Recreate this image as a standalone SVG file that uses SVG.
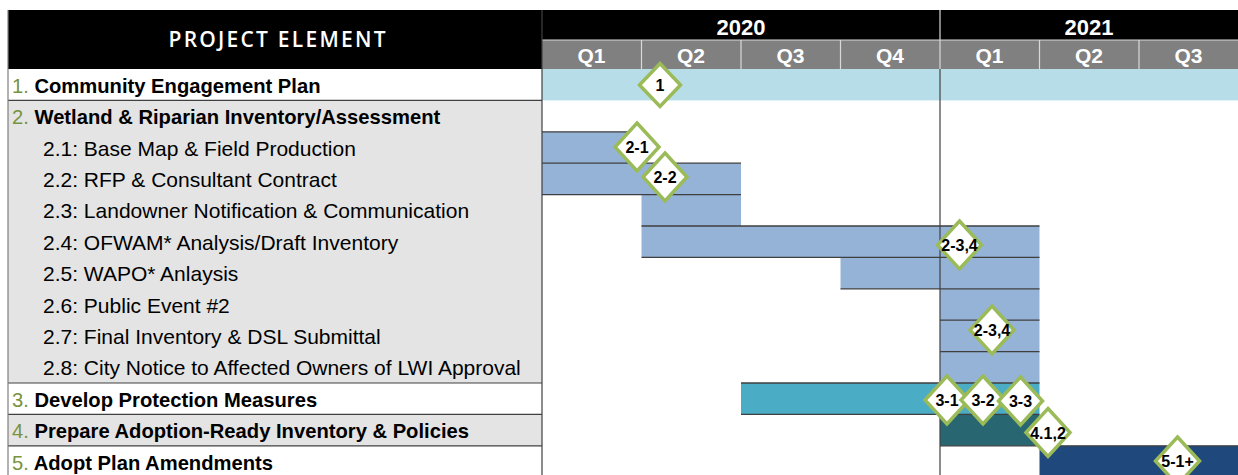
<svg xmlns="http://www.w3.org/2000/svg" width="1238" height="475" viewBox="0 0 1238 475">
<style>
.hd{font-family:"Liberation Sans",Arial,sans-serif;font-weight:bold;fill:#fff;text-anchor:middle}
.yr{font-size:22px}
.qt{font-size:21px}
.pe{font-family:"Open Sans","Liberation Sans",sans-serif;font-size:21px;font-weight:600;fill:#fff;text-anchor:middle}
.lab{font-family:"Liberation Sans",Arial,sans-serif;font-size:21px;fill:#000}
.b{font-weight:bold;font-size:20.2px}
.num{fill:#77933c;font-weight:normal}
.bar2{fill:#95b3d7}
.edge{stroke:#3f3f3f;stroke-width:1.3;fill:none}
.grid{stroke:#404040;stroke-width:1.2;fill:none}
.qsep{stroke:#d9d9d9;stroke-width:1.2}
.ms{fill:#fff;stroke:#9bbb59;stroke-width:3.5;stroke-linejoin:miter}
.mt{font-family:"Liberation Sans",Arial,sans-serif;font-weight:bold;font-size:16px;fill:#000;text-anchor:middle}
</style>
<defs>
<path id="dia" d="M0,-24 L22,0 L0,24 L-22,0Z"/>
<path id="dias" d="M0,-21.5 L20.5,0 L0,21.5 L-20.5,0Z"/>
</defs>
<rect x="0" y="0" width="1238" height="475" fill="#fff"/>

<g id="header">
<rect x="8" y="10" width="1230" height="59" fill="#000"/>
<rect x="542" y="40" width="696" height="29" fill="#808080"/>
<line class="qsep" x1="542" y1="40" x2="1238" y2="40"/>
<line class="qsep" x1="641.5" y1="40" x2="641.5" y2="69"/>
<line class="qsep" x1="741" y1="40" x2="741" y2="69"/>
<line class="qsep" x1="840.5" y1="40" x2="840.5" y2="69"/>
<line class="qsep" x1="940" y1="10" x2="940" y2="69"/>
<line class="qsep" x1="1039.5" y1="40" x2="1039.5" y2="69"/>
<line class="qsep" x1="1139" y1="40" x2="1139" y2="69"/>
<text class="pe" x="277" y="47" textLength="217" lengthAdjust="spacing">PROJECT ELEMENT</text>
<text class="hd yr" x="741" y="34.5">2020</text>
<text class="hd yr" x="1089" y="34.5">2021</text>
<text class="hd qt" x="591.5" y="63.3">Q1</text>
<text class="hd qt" x="691" y="63.3">Q2</text>
<text class="hd qt" x="790.5" y="63.3">Q3</text>
<text class="hd qt" x="890" y="63.3">Q4</text>
<text class="hd qt" x="989.5" y="63.3">Q1</text>
<text class="hd qt" x="1089" y="63.3">Q2</text>
<text class="hd qt" x="1188.5" y="63.3">Q3</text>
</g>

<g id="left-column">
<rect x="8" y="100.4" width="534" height="282.6" fill="#e4e4e4"/>
<rect x="8" y="414.4" width="534" height="31.4" fill="#e4e4e4"/>
<line class="grid" x1="8" y1="100.4" x2="542" y2="100.4"/>
<line class="grid" x1="8" y1="383" x2="542" y2="383"/>
<line class="grid" x1="8" y1="414.4" x2="542" y2="414.4"/>
<line class="grid" x1="8" y1="445.8" x2="542" y2="445.8"/>
<line x1="8" y1="10" x2="8" y2="475" stroke="#7f7f7f" stroke-width="1.2"/>
<text class="lab b" x="12" y="92.7"><tspan class="num">1.</tspan> Community Engagement Plan</text>
<text class="lab b" x="12" y="124.1"><tspan class="num">2.</tspan> Wetland &amp; Riparian Inventory/Assessment</text>
<text class="lab" x="43" y="155.5">2.1: Base Map &amp; Field Production</text>
<text class="lab" x="43" y="186.9">2.2: RFP &amp; Consultant Contract</text>
<text class="lab" x="43" y="218.3">2.3: Landowner Notification &amp; Communication</text>
<text class="lab" x="43" y="249.7">2.4: OFWAM* Analysis/Draft Inventory</text>
<text class="lab" x="43" y="281.1">2.5: WAPO* Anlaysis</text>
<text class="lab" x="43" y="312.5">2.6: Public Event #2</text>
<text class="lab" x="43" y="343.9">2.7: Final Inventory &amp; DSL Submittal</text>
<text class="lab" x="43" y="375.3">2.8: City Notice to Affected Owners of LWI Approval</text>
<text class="lab b" x="12" y="406.7"><tspan class="num">3.</tspan> Develop Protection Measures</text>
<text class="lab b" x="12" y="438.1"><tspan class="num">4.</tspan> Prepare Adoption-Ready Inventory &amp; Policies</text>
<text class="lab b" x="12" y="469.5"><tspan class="num">5.</tspan> Adopt Plan Amendments</text>
</g>

<g id="bars">
<rect x="542" y="69" width="696" height="31.4" fill="#b7dee8"/>
<rect class="bar2" x="542" y="131.8" width="99.5" height="31.4"/>
<rect class="bar2" x="542" y="163.2" width="199" height="31.4"/>
<rect class="bar2" x="641.5" y="194.6" width="99.5" height="31.4"/>
<rect class="bar2" x="641.5" y="226" width="398" height="31.4"/>
<rect class="bar2" x="840.5" y="257.4" width="199" height="31.4"/>
<rect class="bar2" x="940" y="288.8" width="99.5" height="94.2"/>
<rect x="741" y="383" width="298.5" height="31.4" fill="#4bacc6"/>
<rect x="940" y="414.4" width="99.5" height="31.4" fill="#286672"/>
<rect x="1039.5" y="445.8" width="198.5" height="29.2" fill="#1f497d"/>
<path class="edge" d="M542,131.8H641.5 M542,163.2H741 M542,194.6H741 M641.5,226H1039.5 M641.5,257.4H1039.5 M840.5,288.8H1039.5 M940,320.2H1039.5 M940,351.6H1039.5 M741,383H1039.5 M741,414.4H1039.5 M940,445.8H1238"/>
</g>

<g id="gridlines">
<line class="grid" x1="542" y1="10" x2="542" y2="475"/>
<line class="grid" x1="940" y1="69" x2="940" y2="475"/>
</g>

<g id="connectors"></g>

<g id="ms-1"><use href="#dias" class="ms" x="660" y="85"/><text class="mt" x="660" y="91">1</text></g>
<g id="ms-2-1"><use href="#dia" class="ms" x="637" y="147"/><text class="mt" x="637" y="153">2-1</text></g>
<g id="ms-2-2"><use href="#dia" class="ms" x="665" y="177"/><text class="mt" x="665" y="183">2-2</text></g>
<g id="ms-2-34a"><use href="#dia" class="ms" x="959.5" y="245"/><text class="mt" x="959.5" y="251">2-3,4</text></g>
<g id="ms-2-34b"><use href="#dia" class="ms" x="992" y="330"/><text class="mt" x="992" y="336">2-3,4</text></g>
<g id="ms-3-1"><use href="#dia" class="ms" x="947" y="400"/><text class="mt" x="947" y="406">3-1</text></g>
<g id="ms-3-2"><use href="#dia" class="ms" x="983" y="400"/><text class="mt" x="983" y="406">3-2</text></g>
<g id="ms-3-3"><use href="#dia" class="ms" x="1020.5" y="401"/><text class="mt" x="1020.5" y="407">3-3</text></g>
<g id="ms-4-12"><use href="#dia" class="ms" x="1048" y="432.5"/><text class="mt" x="1048" y="438.5">4.1,2</text></g>
<g id="ms-5-1"><use href="#dia" class="ms" x="1177.5" y="461"/><text class="mt" x="1177.5" y="467">5-1+</text></g>
</svg>
